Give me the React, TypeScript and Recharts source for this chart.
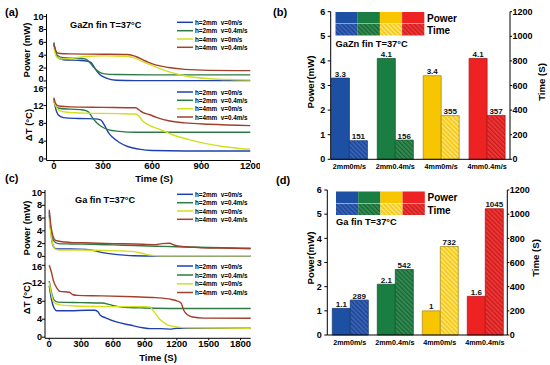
import React from 'react';
import { LineChart, Line, BarChart, Bar, Cell, LabelList, XAxis, YAxis } from 'recharts';

const FONT = 'Arial, "Liberation Sans", sans-serif';

// ---- line chart series: [time (s), value] ----
const seriesNames = ['h=2mm  v=0m/s', 'h=2mm  v=0.4m/s', 'h=4mm  v=0m/s', 'h=4mm  v=0.4m/s'];
const lineColors = ['#2040b0', '#2e7a44', '#d2e01e', '#a3402c'];

// (a) GaZn fin, power
const aPowBlue = [[0, 5.8], [10, 4.6], [25, 3.6], [60, 3.3], [150, 3.2], [200, 3.1], [225, 2.9], [245, 2.2], [260, 1.6], [280, 1.0], [320, 0.45], [380, 0.12], [500, 0.05], [800, 0.05], [1200, 0.05]];
const aPowGreen = [[0, 6.0], [8, 4.8], [20, 4.0], [60, 3.6], [150, 3.5], [195, 3.4], [215, 3.0], [240, 2.2], [270, 1.5], [310, 1.1], [380, 1.0], [600, 0.95], [1200, 0.95]];
const aPowYellow = [[0, 5.2], [15, 3.8], [40, 3.4], [100, 3.5], [200, 3.8], [300, 3.9], [450, 3.8], [500, 3.5], [560, 2.8], [640, 2.0], [720, 1.3], [820, 0.7], [950, 0.35], [1100, 0.2], [1200, 0.15]];
const aPowBrown = [[0, 5.6], [10, 4.8], [25, 4.3], [100, 4.2], [300, 4.15], [450, 4.1], [500, 3.8], [560, 3.1], [620, 2.5], [700, 2.1], [800, 1.8], [950, 1.65], [1200, 1.6]];

// (a) GaZn fin, temperature difference
const aDtBlue = [[0, 13.5], [10, 11.5], [30, 9.8], [60, 9.3], [150, 9.1], [250, 9.0], [285, 8.8], [310, 7.5], [335, 5.8], [360, 4.8], [400, 3.7], [450, 2.8], [520, 2.2], [600, 1.9], [800, 1.8], [1200, 1.8]];
const aDtGreen = [[0, 13.0], [10, 12.0], [30, 11.4], [100, 11.2], [180, 11.0], [210, 10.6], [235, 9.3], [260, 8.2], [290, 7.3], [330, 6.6], [400, 6.2], [500, 6.0], [800, 6.0], [1200, 6.0]];
const aDtYellow = [[0, 13.2], [10, 12.0], [30, 11.0], [80, 10.5], [200, 10.3], [400, 10.2], [500, 10.1], [520, 9.6], [545, 8.4], [580, 7.6], [650, 6.6], [720, 5.5], [820, 4.4], [920, 3.5], [1030, 2.8], [1150, 2.3], [1200, 2.2]];
const aDtBrown = [[0, 13.8], [10, 12.5], [30, 11.9], [100, 11.7], [300, 11.6], [500, 11.5], [520, 11.0], [545, 10.4], [580, 10.0], [630, 9.3], [700, 8.6], [800, 8.1], [950, 7.8], [1200, 7.5]];

// (c) Ga fin, power
const cPowBlue = [[0, 7.0], [15, 4.0], [30, 2.0], [50, 1.3], [80, 1.15], [200, 1.15], [350, 1.1], [420, 0.9], [500, 0.6], [600, 0.35], [700, 0.2], [800, 0.1], [1000, 0.05], [1900, 0.05]];
const cPowGreen = [[0, 6.5], [15, 4.0], [40, 2.5], [80, 2.0], [200, 1.95], [400, 1.9], [600, 1.8], [800, 1.7], [1000, 1.6], [1200, 1.5], [1500, 1.4], [1900, 1.3]];
const cPowYellow = [[0, 6.0], [15, 3.5], [35, 1.8], [60, 1.1], [100, 1.0], [300, 1.0], [500, 0.95], [700, 0.85], [800, 0.75], [880, 0.45], [950, 0.2], [1050, 0.1], [1900, 0.1]];
const cPowBrown = [[0, 7.3], [10, 5.5], [30, 3.5], [60, 2.5], [120, 2.3], [200, 2.2], [400, 2.1], [600, 2.0], [800, 1.95], [1000, 1.85], [1060, 2.0], [1130, 2.05], [1180, 1.75], [1250, 1.55], [1400, 1.4], [1600, 1.3], [1900, 1.2]];

// (c) Ga fin, temperature difference
const cDtBlue = [[0, 11.5], [20, 8.5], [45, 6.5], [70, 5.9], [200, 5.9], [350, 6.0], [430, 6.0], [460, 5.6], [480, 4.9], [530, 4.3], [630, 3.4], [760, 2.7], [880, 2.1], [950, 1.9], [1050, 1.9], [1150, 1.8], [1200, 2.0], [1500, 2.0], [1900, 2.0]];
const cDtGreen = [[0, 12.5], [20, 10.0], [45, 8.3], [80, 7.8], [300, 7.7], [500, 7.6], [560, 7.3], [650, 6.8], [750, 6.6], [900, 6.5], [1200, 6.4], [1900, 6.4]];
const cDtYellow = [[0, 12.2], [20, 9.5], [50, 7.6], [100, 7.2], [300, 6.9], [600, 6.8], [900, 6.8], [950, 6.7], [980, 5.8], [1010, 4.9], [1040, 4.0], [1075, 3.3], [1120, 2.7], [1200, 2.3], [1300, 2.1], [1900, 2.0]];
const cDtBrown = [[0, 16.0], [20, 14.5], [40, 12.5], [70, 11.0], [100, 10.2], [190, 10.0], [220, 9.5], [260, 9.3], [500, 9.2], [800, 9.0], [1000, 8.8], [1150, 8.4], [1200, 8.1], [1240, 7.6], [1265, 6.0], [1300, 5.0], [1350, 4.5], [1450, 4.25], [1900, 4.2]];

// ---- bar charts ----
const categories = ['2mm0m/s', '2mm0.4m/s', '4mm0m/s', '4mm0.4m/s'];
const bPower = [3.3, 4.1, 3.4, 4.1];
const bTime = [151, 156, 355, 357];
const dPower = [1.1, 2.1, 1, 1.6];
const dTime = [289, 542, 732, 1045];

const solidColors = ['#1d4fa3', '#1a7d42', '#f7c600', '#ee2222'];
const edgeColors = ['#173d80', '#145c30', '#a89020', '#b01818'];
const hatches = [
  { id: 'hb', base: '#3562b4', line: '#1c3f8e' },
  { id: 'hg', base: '#2f8a50', line: '#1b6233' },
  { id: 'hy', base: '#f6cc1c', line: '#ffe88a' },
  { id: 'hr', base: '#ef3434', line: '#c01c1c' },
];

const toPts = (arr: number[][]) => arr.map(([t, v]) => ({ t, v }));

const tickFont = { fontSize: 10, fontWeight: 'bold', fill: '#000', fontFamily: FONT };

// y tick that can nudge one value a bit (stacked panels share a border)
const makeYTick = (nudge: Record<number, number>) => (props: any) => {
  const { x, y, payload } = props;
  const dy = nudge[payload.value] || 0;
  return (
    <text x={x} y={y + dy} textAnchor="end" dominantBaseline="central" fontSize={9.2} fontWeight="bold" fontFamily={FONT} fill="#000">
      {payload.value}
    </text>
  );
};

interface LinePanelProps {
  top: number;
  height: number;
  mTop: number;
  mBottom: number;
  xAxisH: number;
  yWidth: number;
  right: number;
  xDomain: number[];
  xTicks: number[];
  yDomain: number[];
  yTicks: number[];
  showX: boolean;
  nudge: Record<number, number>;
  series: number[][][];
}

const LinePanel: React.FC<LinePanelProps> = (p) => (
  <div style={{ position: 'absolute', left: 0, top: p.top, width: 260, height: p.height }}>
    <LineChart width={260} height={p.height} margin={{ top: p.mTop, right: p.right, bottom: p.mBottom, left: 0 }}>
      <XAxis
        type="number"
        dataKey="t"
        domain={p.xDomain}
        ticks={p.xTicks}
        allowDataOverflow
        interval={0}
        height={p.xAxisH}
        stroke="#000"
        tick={p.showX ? { ...tickFont, fontSize: 9.5 } : false}
        tickLine={p.showX ? { stroke: '#000' } : false}
        tickSize={2}
        tickMargin={0}
      />
      <XAxis xAxisId="top" orientation="top" type="number" domain={[0, 1]} height={0} tick={false} tickLine={false} stroke="#000" />
      <YAxis
        type="number"
        domain={p.yDomain}
        ticks={p.yTicks}
        allowDataOverflow
        interval={0}
        width={p.yWidth}
        stroke="#000"
        tick={makeYTick(p.nudge)}
        tickLine={{ stroke: '#000' }}
        tickSize={3}
        tickMargin={0}
      />
      <YAxis yAxisId="r" orientation="right" type="number" domain={[0, 1]} width={0} tick={false} tickLine={false} stroke="#000" />
      {p.series.map((s, i) => (
        <Line
          key={i}
          data={toPts(s)}
          dataKey="v"
          type="monotone"
          stroke={lineColors[i]}
          strokeWidth={1.4}
          dot={false}
          isAnimationActive={false}
        />
      ))}
    </LineChart>
  </div>
);

interface BarPanelProps {
  top: number;
  mTop: number;
  xAxisH: number;
  leftW: number;
  rightW: number;
  padLeft: number;
  power: number[];
  time: number[];
}

const BarPanel: React.FC<BarPanelProps> = (p) => {
  const rows = categories.map((name, i) => ({ name, power: p.power[i], time: p.time[i] }));
  const labelStyle = { fontSize: 8, fontWeight: 'bold', fill: '#111', fontFamily: FONT };
  return (
    <div style={{ position: 'absolute', left: 270, top: p.top, width: 280, height: 180 }}>
      <BarChart width={280} height={180} data={rows} margin={{ top: p.mTop, right: 0, bottom: 0, left: 0 }} barGap={0} barSize={18}>
        <XAxis
          dataKey="name"
          height={p.xAxisH}
          interval={0}
          padding={{ left: p.padLeft, right: 0 }}
          stroke="#000"
          tickLine={false}
          tickSize={4}
          tickMargin={0.5}
          tick={{ ...tickFont, fontSize: 7.2 }}
        />
        <XAxis xAxisId="top" dataKey="name" orientation="top" height={0} tick={false} tickLine={false} padding={{ left: p.padLeft, right: 0 }} stroke="#000" />
        <YAxis
          yAxisId="p"
          type="number"
          domain={[0, 6]}
          ticks={[0, 1, 2, 3, 4, 5, 6]}
          interval={0}
          width={p.leftW}
          stroke="#000"
          tick={{ ...tickFont, fontSize: 9 }}
          tickLine={{ stroke: '#000' }}
          tickSize={3}
          tickMargin={2.5}
        />
        <YAxis
          yAxisId="t"
          orientation="right"
          type="number"
          domain={[0, 1200]}
          ticks={[0, 200, 400, 600, 800, 1000, 1200]}
          interval={0}
          width={p.rightW}
          stroke="#000"
          tick={{ ...tickFont, fontSize: 9 }}
          tickLine={{ stroke: '#000' }}
          tickSize={2}
          tickMargin={0.5}
        />
        <Bar yAxisId="p" dataKey="power" isAnimationActive={false}>
          {rows.map((_, i) => (
            <Cell key={i} fill={solidColors[i]} stroke={edgeColors[i]} strokeWidth={0.8} />
          ))}
          <LabelList dataKey="power" position="top" offset={1.5} style={labelStyle} />
        </Bar>
        <Bar yAxisId="t" dataKey="time" isAnimationActive={false}>
          {rows.map((_, i) => (
            <Cell key={i} fill={`url(#${hatches[i].id})`} stroke={edgeColors[i]} strokeWidth={0.8} />
          ))}
          <LabelList dataKey="time" position="top" offset={1.5} style={labelStyle} />
        </Bar>
      </BarChart>
    </div>
  );
};

const LineLegend: React.FC<{ rows: number[] }> = ({ rows }) => (
  <g>
    {rows.map((y, i) => (
      <g key={i}>
        <line x1={177} x2={193} y1={y} y2={y} stroke={lineColors[i]} strokeWidth={1.5} />
        <text x={195} y={y} fontSize={6.3} dominantBaseline="central" style={{ whiteSpace: 'pre' }}>
          {seriesNames[i]}
        </text>
      </g>
    ))}
  </g>
);

const BarLegend: React.FC<{ x: number; y: number; title: string; titleY: number }> = ({ x, y, title, titleY }) => (
  <g>
    {solidColors.map((c, i) => (
      <rect key={'s' + i} x={x + i * 22.2} y={y} width={22.2} height={11.5} fill={c} />
    ))}
    {hatches.map((h, i) => (
      <rect key={'h' + i} x={x + i * 22.2} y={y + 12} width={22.2} height={11.5} fill={`url(#${h.id})`} />
    ))}
    <text x={x + 91.5} y={y + 6} fontSize={10} dominantBaseline="central">Power</text>
    <text x={x + 91.5} y={y + 18.5} fontSize={10} dominantBaseline="central">Time</text>
    <text x={x} y={titleY} fontSize={9.3} dominantBaseline="central">{title}</text>
  </g>
);

const vLabel = (x: number, y: number, s: string, size = 9.5) => (
  <text transform={`translate(${x},${y}) rotate(-90)`} textAnchor="middle" dominantBaseline="central" fontSize={size}>
    {s}
  </text>
);

export default function App() {
  return (
    <div style={{ position: 'absolute', left: 0, top: 0, width: 550, height: 365, background: '#fff', fontFamily: FONT }}>
      <svg width={0} height={0} style={{ position: 'absolute' }}>
        <defs>
          {hatches.map((h) => (
            <pattern key={h.id} id={h.id} width={3.2} height={3.2} patternUnits="userSpaceOnUse" patternTransform="rotate(-45)">
              <rect width={3.2} height={3.2} fill={h.base} />
              <rect width={1.1} height={3.2} fill={h.line} />
            </pattern>
          ))}
        </defs>
      </svg>

      {/* (a) GaZn fin */}
      <LinePanel top={9} height={80} mTop={5} mBottom={3.2} xAxisH={0} yWidth={46.5} right={9.5}
        xDomain={[-45, 1200]} xTicks={[0, 300, 600, 900, 1200]} yDomain={[-0.75, 10.4]} yTicks={[0, 2, 4, 6, 8, 10]}
        showX={false} nudge={{ 0: -1.6 }} series={[aPowBlue, aPowGreen, aPowYellow, aPowBrown]} />
      <LinePanel top={80} height={100} mTop={5.8} mBottom={0} xAxisH={19.5} yWidth={46.5} right={9.5}
        xDomain={[-45, 1200]} xTicks={[0, 300, 600, 900, 1200]} yDomain={[-0.35, 16.45]} yTicks={[0, 4, 8, 12, 16]}
        showX nudge={{ 16: 1.6 }} series={[aDtBlue, aDtGreen, aDtYellow, aDtBrown]} />

      {/* (c) Ga fin */}
      <LinePanel top={185} height={80} mTop={5} mBottom={3.5} xAxisH={0} yWidth={45} right={9.3}
        xDomain={[-40, 1895]} xTicks={[0, 300, 600, 900, 1200, 1500, 1800]} yDomain={[-0.8, 10.4]} yTicks={[0, 2, 4, 6, 8, 10]}
        showX={false} nudge={{ 0: -1.6 }} series={[cPowBlue, cPowGreen, cPowYellow, cPowBrown]} />
      <LinePanel top={256} height={109} mTop={5.5} mBottom={0} xAxisH={26.7} yWidth={45} right={9.3}
        xDomain={[-40, 1895]} xTicks={[0, 300, 600, 900, 1200, 1500, 1800]} yDomain={[-0.25, 16.85]} yTicks={[0, 4, 8, 12, 16]}
        showX nudge={{ 16: 1.2 }} series={[cDtBlue, cDtGreen, cDtYellow, cDtBrown]} />

      {/* (b) and (d) bars */}
      <BarPanel top={0} mTop={11.7} xAxisH={20.7} leftW={60.7} rightW={40} padLeft={-4.3} power={bPower} time={bTime} />
      <BarPanel top={180} mTop={10} xAxisH={25} leftW={57.3} rightW={42.7} padLeft={0} power={dPower} time={dTime} />

      <svg width={550} height={365} style={{ position: 'absolute', left: 0, top: 0, pointerEvents: 'none' }}
        fontFamily={FONT} fontWeight="bold" fill="#000">
        <text x={5} y={15.5} fontSize={11}>(a)</text>
        <text x={273} y={16} fontSize={11}>(b)</text>
        <text x={5} y={182} fontSize={11}>(c)</text>
        <text x={276} y={184} fontSize={11}>(d)</text>

        <text x={70} y={25} fontSize={9.2} dominantBaseline="central">GaZn fin T=37°C</text>
        <text x={75} y={199.5} fontSize={9.2} dominantBaseline="central">Ga fin T=37°C</text>

        {vLabel(26, 50, 'Power (mW)')}
        {vLabel(28, 125, 'ΔT (°C)')}
        {vLabel(26, 228, 'Power (mW)')}
        {vLabel(26, 298, 'ΔT (°C)')}
        <text x={154} y={178.5} fontSize={9.6} textAnchor="middle" dominantBaseline="central">Time (S)</text>
        <text x={158} y={357} fontSize={9.6} textAnchor="middle" dominantBaseline="central">Time (S)</text>

        <LineLegend rows={[22.3, 30.7, 39, 47.3]} />
        <LineLegend rows={[92, 100.3, 108.7, 117]} />
        <LineLegend rows={[194.3, 202.7, 211, 219.3]} />
        <LineLegend rows={[266, 275, 283.8, 292.5]} />

        <BarLegend x={335.5} y={12} title="GaZn fin T=37°C" titleY={44} />
        <BarLegend x={336} y={191.5} title="Ga fin T=37°C" titleY={221.7} />
        {vLabel(310, 82, 'Power(mW)', 9.6)}
        {vLabel(541.5, 82, 'Time (S)', 9.6)}
        {vLabel(310, 258, 'Power(mW)', 9.6)}
        {vLabel(535, 258, 'Time (S)', 9.6)}
      </svg>
    </div>
  );
}
